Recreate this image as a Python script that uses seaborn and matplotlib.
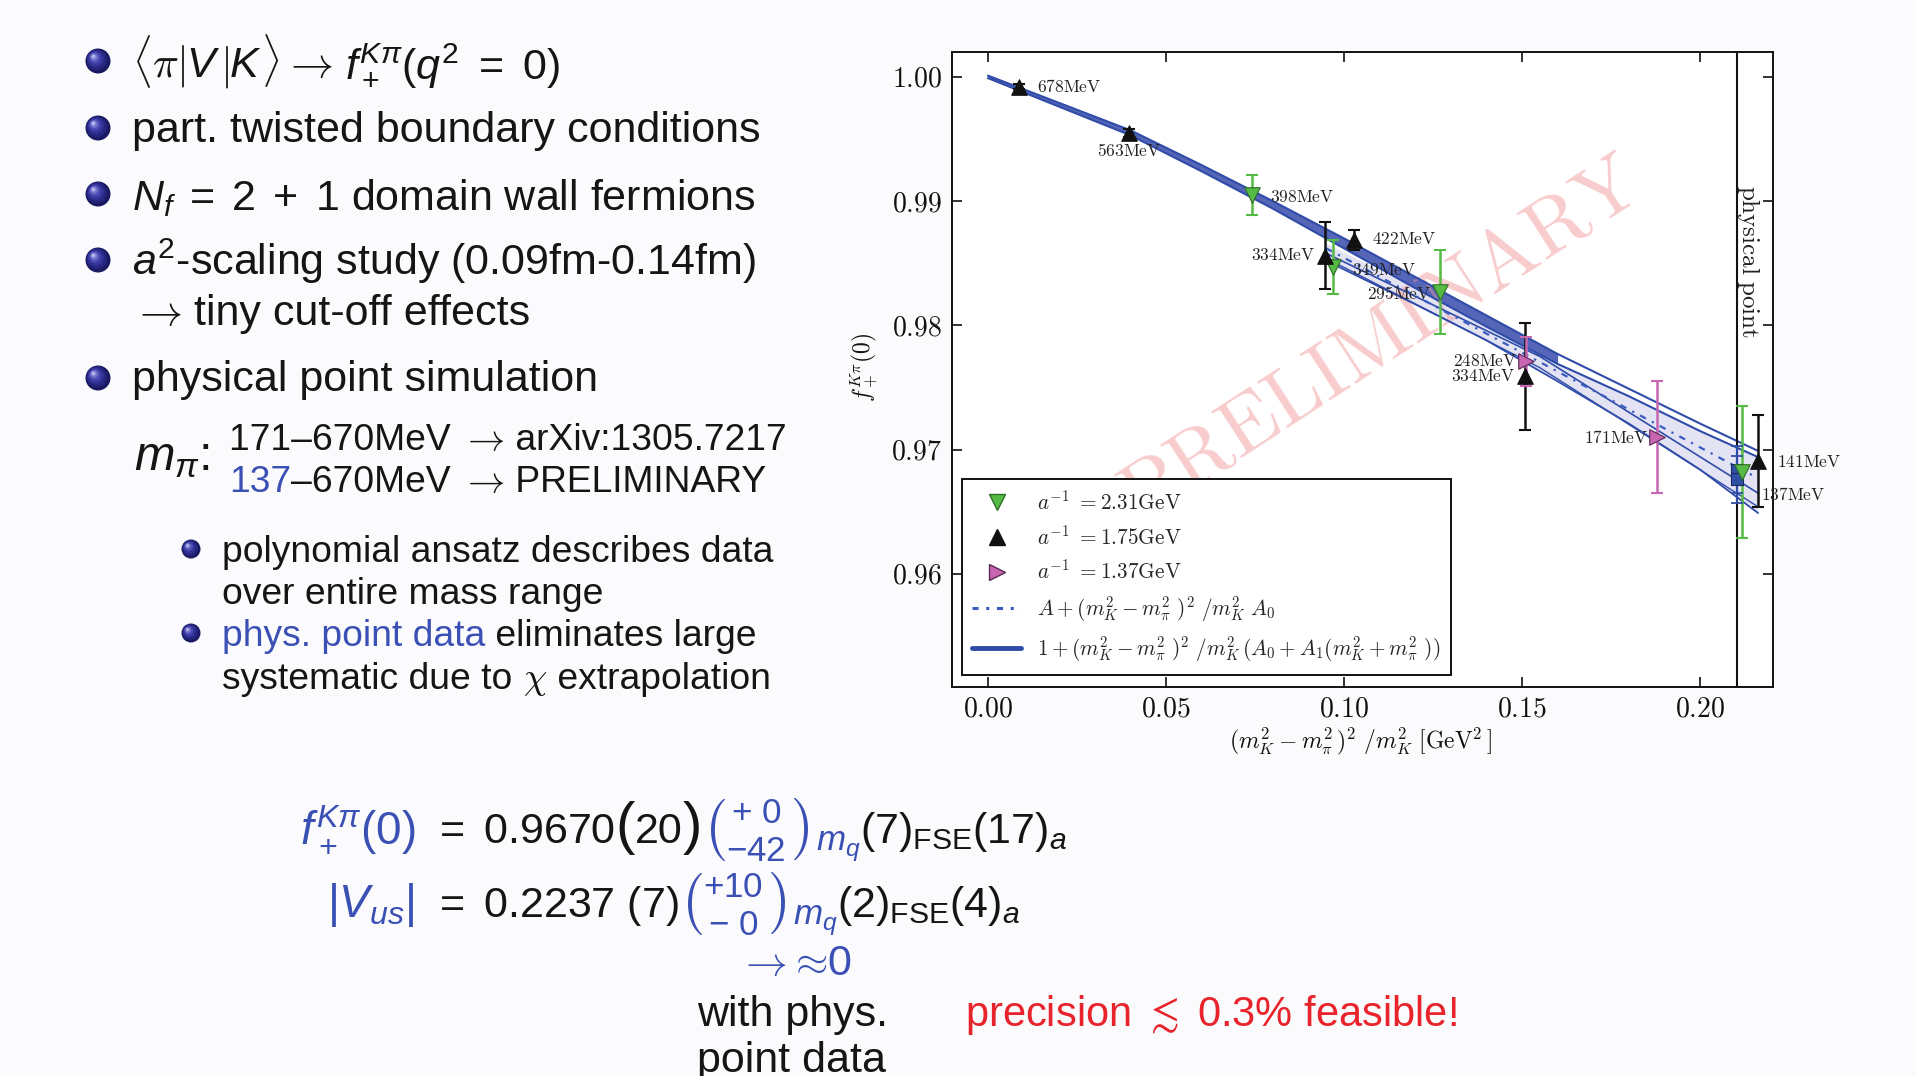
import numpy as np
import pandas as pd
import seaborn as sns
import matplotlib
matplotlib.use("Agg")
import matplotlib.pyplot as plt
from matplotlib.lines import Line2D
from matplotlib.patches import Circle

# ---------------- data ----------------
# a^-1 = 2.31 GeV
g231_x = [0.0742, 0.0969, 0.1270, 0.2117]
g231_y = [0.9905, 0.9847, 0.9827, 0.9682]
g231_err = [0.0016, 0.0022, 0.0034, 0.0053]
g231_lab = ["398MeV", "349MeV", "295MeV", "137MeV"]
# a^-1 = 1.75 GeV
b175_x = [0.0087, 0.0396, 0.0947, 0.1028, 0.1508, 0.2163]
b175_y = [0.9992, 0.9955, 0.9856, 0.9869, 0.9759, 0.9691]
b175_err = [0.0002, 0.0003, 0.0027, 0.0008, 0.0043, 0.0037]
b175_lab = ["678MeV", "563MeV", "334MeV", "422MeV", "334MeV", "141MeV"]
# a^-1 = 1.37 GeV
m137_x = [0.1511, 0.1879]
m137_y = [0.9771, 0.9710]
m137_err = [0.0020, 0.0045]
m137_lab = ["248MeV", "171MeV"]
# physical point results
phys_x = [0.2104, 0.2104]
phys_y = [0.9684, 0.9676]
phys_err = [0.0019, 0.0019]
phys_line_x = 0.2105

# fit bands
dark_x = [0.0, 0.02, 0.04, 0.06, 0.08, 0.10, 0.12, 0.14, 0.16, 0.18, 0.20, 0.2163]
dark_upper = [1.0001, 0.9979, 0.9957, 0.9929, 0.9900, 0.9870, 0.9839, 0.9808, 0.9777, 0.9749, 0.9721, 0.9699]
dark_lower = [0.9999, 0.9976, 0.9953, 0.9924, 0.9894, 0.9862, 0.9830, 0.9799, 0.9769, 0.9743, 0.9715, 0.9694]
light_x = [0.095, 0.12, 0.14, 0.16, 0.18, 0.20, 0.2163]
light_upper = [0.9866, 0.9830, 0.9799, 0.9769, 0.9743, 0.9715, 0.9694]
light_lower = [0.9852, 0.9817, 0.9788, 0.9755, 0.9721, 0.9684, 0.9649]
ddash_x = [0.095, 0.2163]
ddash_y = [0.9862, 0.9677]
mid_x = [0.095, 0.155, 0.2163]
mid_y = [0.9858, 0.9775, 0.9665]
mid2_x = [0.095, 0.155, 0.2163]
mid2_y = [0.9854, 0.9766, 0.9654]

xticks = [0.00, 0.05, 0.10, 0.15, 0.20]
yticks = [0.96, 0.97, 0.98, 0.99, 1.00]

legend_labels = [r"$a^{-1}\ =2.31\mathrm{GeV}$", r"$a^{-1}\ =1.75\mathrm{GeV}$", r"$a^{-1}\ =1.37\mathrm{GeV}$",
                 r"$A+(m_K^2-m_\pi^2\ )^2\ /m_K^2\ A_0$",
                 r"$1+(m_K^2-m_\pi^2\ )^2\ /m_K^2\,(A_0+A_1(m_K^2+m_\pi^2\ ))$"]

# ---------------- style ----------------
sns.set_theme(style="ticks")
plt.rcParams["font.family"] = ["Liberation Sans", "DejaVu Sans"]
plt.rcParams["mathtext.fontset"] = "cm"
plt.rcParams["mathtext.rm"] = "Liberation Sans"
plt.rcParams["mathtext.it"] = "Liberation Sans:italic"
plt.rcParams["mathtext.bf"] = "Liberation Sans:bold"
plt.rcParams["mathtext.sf"] = "Liberation Sans"

GREEN = "#55bb45"
GREEN_E = "#2e6e28"
MAG = "#c866b2"
MAG_E = "#5a2a55"
BLK = "#111111"
BLUE = "#2f4ca8"
TXT_BLUE = "#3a50b4"
RED = "#e8232b"

fig = plt.figure(figsize=(19.16, 10.76), dpi=100, facecolor="#fbfbfd")

ax_bg = fig.add_axes([0, 0, 1, 1])
ax_bg.set_xlim(0, 1916)
ax_bg.set_ylim(1076, 0)
ax_bg.axis("off")

# ---------------- chart ----------------
ax = fig.add_axes([952 / 1916, 1 - 687 / 1076, 821 / 1916, 635 / 1076])
ax.set_facecolor("white")

ax.fill_between(light_x, light_lower, light_upper, color="#e3e3f4", lw=0, zorder=1)
dark_mask = np.array(dark_x) <= 0.165
ax.fill_between(dark_x, dark_lower, dark_upper, where=dark_mask, color="#5565b8", lw=0, zorder=1.2)
for yy in (dark_upper, dark_lower):
    sns.lineplot(x=dark_x, y=yy, color=BLUE, lw=1.5, ax=ax, zorder=2, sort=False, estimator=None)
sns.lineplot(x=light_x, y=light_lower, color=BLUE, lw=1.3, ax=ax, zorder=2, sort=False, estimator=None)
sns.lineplot(x=mid_x, y=mid_y, color=BLUE, lw=1.2, ax=ax, zorder=2, sort=False, estimator=None)
sns.lineplot(x=mid2_x, y=mid2_y, color=BLUE, lw=1.0, ax=ax, zorder=2, sort=False, estimator=None)
sns.lineplot(x=ddash_x, y=ddash_y, color="#3a5cc0", lw=1.6, ax=ax, zorder=2, sort=False,
             estimator=None, linestyle=(0, (3, 3, 1, 3)))

# watermark
ax.text(0.1110, 0.9787, r"$\mathrm{PRELIMINARY}$", fontsize=59, color="#f29a9a", alpha=0.5,
        rotation=33, ha="center", va="center", rotation_mode="anchor", zorder=1.5)

ax.axvline(phys_line_x, color=BLK, lw=1.5, zorder=2.5)

# error bars
ax.errorbar(g231_x, g231_y, yerr=g231_err, fmt="none", ecolor=GREEN, elinewidth=1.8, capsize=4.5, capthick=1.5, zorder=3)
ax.errorbar(b175_x, b175_y, yerr=b175_err, fmt="none", ecolor=BLK, elinewidth=1.8, capsize=4.5, capthick=1.5, zorder=3)
ax.errorbar(m137_x, m137_y, yerr=m137_err, fmt="none", ecolor=MAG, elinewidth=1.8, capsize=4.5, capthick=1.5, zorder=3)
ax.errorbar(phys_x, phys_y, yerr=phys_err, fmt="none", ecolor=BLUE, elinewidth=1.5, capsize=4.5, capthick=1.3, zorder=3)

sns.scatterplot(x=phys_x, y=phys_y, marker="s", s=70, color="#2f4fa5", edgecolor="#1a2a60", linewidth=0.8, ax=ax, zorder=4, legend=False)
sns.scatterplot(x=g231_x, y=g231_y, marker="v", s=125, color=GREEN, edgecolor=GREEN_E, linewidth=0.8, ax=ax, zorder=4, legend=False)
sns.scatterplot(x=b175_x, y=b175_y, marker="^", s=125, color=BLK, edgecolor=BLK, linewidth=0.8, ax=ax, zorder=4, legend=False)
sns.scatterplot(x=m137_x, y=m137_y, marker=">", s=125, color=MAG, edgecolor=MAG_E, linewidth=0.8, ax=ax, zorder=4, legend=False)

# point labels (offsets in points: dx, dy, ha)
g_off = [(13, -1.5, "left"), (14, -2, "left"), (-6, -1, "right"), (14, -16, "left")]
b_off = [(13, 0, "left"), (0, -13, "center"), (-7, 0.5, "right"), (13, 0.5, "left"), (-7, 0, "right"), (14, -1, "left")]
m_off = [(-6, 0, "right"), (-6, 0, "right")]
for xs, ys, labs, offs in ((g231_x, g231_y, g231_lab, g_off), (b175_x, b175_y, b175_lab, b_off),
                           (m137_x, m137_y, m137_lab, m_off)):
    for xv, yv, lab, (dx, dy, ha) in zip(xs, ys, labs, offs):
        ax.annotate(r"$\mathrm{%s}$" % lab, (xv, yv), xytext=(dx, dy), textcoords="offset points",
                    ha=ha, va="center", fontsize=12.5, color="#222222", zorder=5, annotation_clip=False)

ax.text(0.2135, 0.98514, r"$\mathrm{physical\ point}$", rotation=270, ha="center", va="center",
        fontsize=18, color="#222222", zorder=5)

ax.set_xlim(-0.0101, 0.2205)
ax.set_ylim(0.9509, 1.0020)
ax.set_xticks(xticks)
ax.set_xticklabels([r"$%.2f$" % v for v in xticks])
ax.set_yticks(yticks)
ax.set_yticklabels([r"$%.2f$" % v for v in yticks])
ax.tick_params(direction="in", top=True, right=True, length=7, width=1.2, labelsize=20, pad=7, colors="#111111")
for sp in ax.spines.values():
    sp.set_linewidth(1.4)
    sp.set_color("#111111")
ax.set_xlabel("")
ax.set_ylabel("")

handles = [
    Line2D([], [], marker="v", ls="none", color=GREEN, mec=GREEN_E, markersize=11),
    Line2D([], [], marker="^", ls="none", color=BLK, markersize=11),
    Line2D([], [], marker=">", ls="none", color=MAG, mec=MAG_E, markersize=11),
    Line2D([], [], color="#3a5cc0", lw=2.2, ls=(0, (2, 2.5, 1, 2.5))),
    Line2D([], [], color=BLUE, lw=3.5),
]
leg = ax.legend(handles, legend_labels, loc="lower left", bbox_to_anchor=(0.012, 0.019), borderaxespad=0,
                fontsize=15.3, frameon=True, fancybox=False, edgecolor="#111111", framealpha=1,
                handlelength=2.3, handletextpad=0.75, labelspacing=0.52, borderpad=0.5)
leg.get_frame().set_linewidth(1.4)
leg.set_zorder(6)

ax_bg.text(865, 367, r"$f_+^{K\pi}(0)$", rotation=90, ha="center", va="center", fontsize=17, color="#111111")
ax_bg.text(1360, 741, r"$(m_K^2-m_\pi^2\,)^2\ /m_K^2\ [\mathrm{GeV}^2\,]$", ha="center", va="center",
           fontsize=17, color="#111111")

# ---------------- slide text ----------------
renderer = fig.canvas.get_renderer()


def chain(x, y, pieces, size):
    for p in pieces:
        s, c = p[0], p[1]
        mf = p[2] if len(p) > 2 else "custom"
        sz = p[3] if len(p) > 3 else size
        t = ax_bg.text(x, y, s, fontsize=sz, color=c, ha="left", va="baseline",
                       math_fontfamily=mf, family=["Liberation Sans", "DejaVu Sans"])
        bb = t.get_window_extent(renderer)
        x = bb.x1
    return x


def ball(x, y, d):
    r = d / 2.0
    layers = [(1.0, 0.0, "#1a1a62"), (0.82, 0.10, "#262680"), (0.64, 0.18, "#34349a"),
              (0.46, 0.25, "#4c4cb4"), (0.30, 0.31, "#7676cf"), (0.16, 0.36, "#b4b4ec")]
    for f, sh, c in layers:
        ax_bg.add_patch(Circle((x - sh * r, y - sh * r), r * f, color=c, lw=0, zorder=3))


ARW = r"$\rightarrow$"
K = "#151515"
S1 = 31
for by in (61, 128, 194, 260, 378):
    ball(98, by, 25)
chain(132, 77, [(r"$\langle\pi|$", K, "cm"), (r"$V$", K), (r"$|$", K, "cm"), (r"$K$", K),
                (r"$\rangle$ ", K, "cm"), (ARW, K, "cm"), (" ", K), (r"$f_+^{K\pi}(q^2\ =\ 0)$", K)], S1)
chain(132, 142, [("part. twisted boundary conditions", K)], S1)
chain(132, 210, [(r"$N_f\;=\;2\;+\;1$ domain wall fermions", K)], S1)
chain(132, 275, [(r"$a^2$-scaling study (0.09fm-0.14fm)", K)], S1)
chain(132, 325, [(ARW, K, "cm"), (" tiny cut-off effects", K)], S1)
chain(132, 391, [("physical point simulation", K)], S1)

S2 = 26.8
chain(134, 470, [(r"$m_\pi$:", K, "custom", 35)], S1)
chain(229, 450, [("171–670MeV ", K), (ARW, K, "cm"), (" arXiv:1305.7217", K)], S2)
chain(229, 492, [("137", TXT_BLUE), ("–670MeV ", K), (ARW, K, "cm"), (" PRELIMINARY", K)], S2)

for by in (549, 633):
    ball(191, by, 19)
chain(222, 562, [("polynomial ansatz describes data", K)], S2)
chain(222, 604, [("over entire mass range", K)], S2)
chain(222, 646, [("phys. point data", TXT_BLUE), (" eliminates large", K)], S2)
chain(222, 689, [("systematic due to ", K), (r"$\chi$", K, "cm"), (" extrapolation", K)], S2)

S3 = 31
ax_bg.text(415, 843, r"$f_+^{K\pi}(0)$", fontsize=S3 + 2, color=TXT_BLUE, ha="right", va="baseline",
           math_fontfamily="custom")
chain(432, 843, [(r"$=\ 0.9670$", K), ("(", K, "custom", 42), ("20", K), (")", K, "custom", 42),
                 (r"$\binom{+\ 0}{-42}_{m_q}$", TXT_BLUE, "custom", 36),
                 (r"$(7)_{\mathrm{FSE}}(17)_a$", K)], S3)
ax_bg.text(415, 917, r"$|V_{us}|$", fontsize=S3 + 2, color=TXT_BLUE, ha="right", va="baseline",
           math_fontfamily="custom")
chain(432, 917, [(r"$=\ 0.2237\ (7)\ \ $", K), (r"$\binom{+10}{-\ 0}_{m_q}$", TXT_BLUE, "custom", 36),
                 (r"$(2)_{\mathrm{FSE}}(4)_a$", K)], S3)
chain(738, 975, [(r"$\rightarrow\!\approx$", TXT_BLUE, "cm", 30), ("0", TXT_BLUE)], S3)
chain(697, 1026, [("with phys.", K)], S3)
chain(697, 1072, [("point data", K)], S3)
chain(965, 1026, [(r"precision $\lesssim$ 0.3% feasible!", RED)], 30)

fig.savefig("out.png", dpi=100, facecolor=fig.get_facecolor())
